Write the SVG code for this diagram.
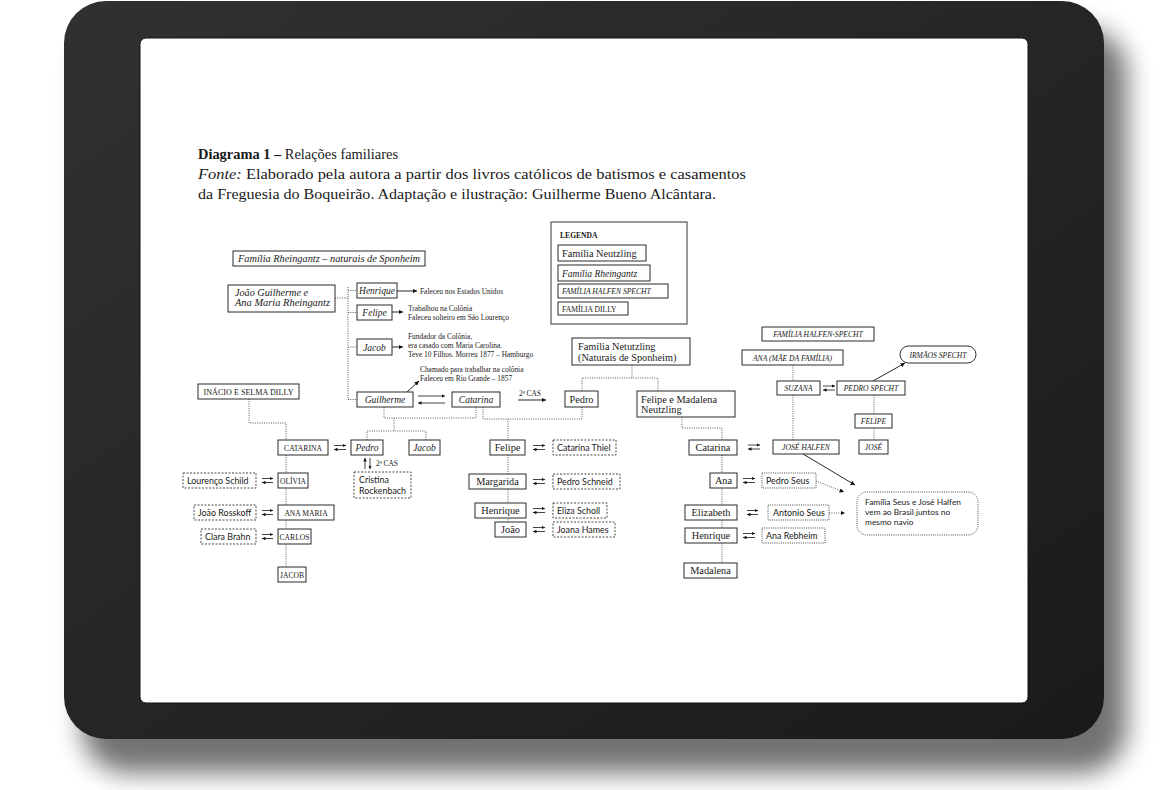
<svg xmlns="http://www.w3.org/2000/svg" width="1167" height="790" viewBox="0 0 1167 790">
<defs>
<linearGradient id="fr" x1="0" y1="0" x2="1" y2="1">
<stop offset="0" stop-color="#313131"/>
<stop offset="1" stop-color="#1a1a1a"/>
</linearGradient>
<filter id="sh" x="-10%" y="-10%" width="120%" height="130%"><feGaussianBlur stdDeviation="13"/></filter>
<marker id="ah" viewBox="0 0 6 6" refX="6" refY="3" markerWidth="4.5" markerHeight="4.5" markerUnits="userSpaceOnUse" orient="auto"><path d="M0,0 L6,3 L0,6 z" fill="#111"/></marker>
<marker id="as" viewBox="0 0 6 6" refX="6" refY="3" markerWidth="3.5" markerHeight="3.5" markerUnits="userSpaceOnUse" orient="auto"><path d="M0,0 L6,3 L0,6 z" fill="#111"/></marker>
<style>
.bx{fill:#fff;stroke:#2a2a2a;stroke-width:1}
.ds{fill:#fff;stroke:#333;stroke-width:0.9;stroke-dasharray:2 1.5}
.dt{fill:#fff;stroke:#333;stroke-width:0.9;stroke-dasharray:1 1.2}
.cn{fill:none;stroke:#333;stroke-width:0.8;stroke-dasharray:1 1.3}
.ar{fill:none;stroke:#111;stroke-width:0.9;marker-end:url(#ah)}
.sw{fill:none;stroke:#111;stroke-width:0.8;marker-end:url(#as)}
text{fill:#1a1a1a}
.t{font-family:"Liberation Serif","DejaVu Serif",serif;font-size:14.5px}
.s{font-family:"Liberation Serif","DejaVu Serif",serif;font-size:10.3px}
.i{font-family:"Liberation Serif","DejaVu Serif",serif;font-size:9.5px;font-style:italic}
.c{font-family:"Liberation Serif","DejaVu Serif",serif;font-size:7.6px}
.ic{font-family:"Liberation Serif","DejaVu Serif",serif;font-size:7.6px;font-style:italic}
.n{font-family:"Liberation Serif","DejaVu Serif",serif;font-size:7.4px}
.sa{font-family:Lato,"Liberation Sans",sans-serif;font-size:8.9px}
.sn{font-family:Lato,"Liberation Sans",sans-serif;font-size:8.4px}
.m{text-anchor:middle}
</style>
</defs>
<rect width="1167" height="790" fill="#fff"/>
<g id="tablet">
<rect x="82" y="28" width="1045" height="745" rx="45" fill="#000" opacity="0.55" filter="url(#sh)"/>
<rect x="64" y="1" width="1040" height="738" rx="42" fill="url(#fr)"/>
<rect x="140" y="38" width="888" height="665" rx="6" fill="#fff" stroke="#111" stroke-width="1"/>
</g>
<g id="title">
<text class="t" x="198" y="159" textLength="200" lengthAdjust="spacingAndGlyphs"><tspan font-weight="bold">Diagrama 1 –</tspan> Relações familiares</text>
<text class="t" x="198" y="179" textLength="548" lengthAdjust="spacingAndGlyphs"><tspan font-style="italic">Fonte:</tspan> Elaborado pela autora a partir dos livros católicos de batismos e casamentos</text>
<text class="t" x="198" y="199" textLength="518" lengthAdjust="spacingAndGlyphs">da Freguesia do Boqueirão. Adaptação e ilustração: Guilherme Bueno Alcântara.</text>
</g>
<g id="connectors">
<path class="cn" d="M335,298 H348 M348,287 V400 M348,290.5 H357 M348,312.5 H357 M348,347 H357 M348,399.5 H357"/>
<path class="ar" d="M397,291 H417"/>
<path class="ar" d="M392,312 H403"/>
<path class="ar" d="M392,347 H403"/>
<path class="ar" d="M407,392 L419,381"/>
<path class="sw" d="M418,396 H445"/>
<path class="sw" d="M445,403 H418"/>
<path class="ar" d="M518,400 H546"/>
<path class="cn" d="M384,407 V418 H476 V407"/>
<path class="cn" d="M483,407 V419 H582 V407"/>
<path class="cn" d="M508,419 V440 M508,455 V522"/>
<path class="cn" d="M394,418 V431 M367,440 V431 H426 V440"/>
<path class="cn" d="M632,365 V378 M582,391 V378 H658 V391"/>
<path class="cn" d="M682,417 V428 H722 V440 M722,455 V563"/>
<path class="cn" d="M249,399 V423 H286 V440 M286,455 V567"/>
<path class="cn" d="M793,365 V381 M793,395 V440 M874,395 V414 M874,428 V440"/>
<path class="ar" d="M873,381 L905,363"/>
<path class="ar" d="M803,454 L855,485"/>
<path class="cn" d="M816,481 L844,492" marker-end="url(#ah)"/>
<path class="cn" d="M829,513 H845" marker-end="url(#ah)"/>
<path class="sw" d="M365,469 V458"/>
<path class="sw" d="M370,458 V469"/>
<g id="swaps">
<path class="sw" d="M334,445.5 H346"/><path class="sw" d="M346,449.5 H334"/>
<path class="sw" d="M262,478.5 H273"/><path class="sw" d="M273,482.5 H262"/>
<path class="sw" d="M262,510.5 H273"/><path class="sw" d="M273,514.5 H262"/>
<path class="sw" d="M262,534.5 H273"/><path class="sw" d="M273,538.5 H262"/>
<path class="sw" d="M533,445.5 H545"/><path class="sw" d="M545,449.5 H533"/>
<path class="sw" d="M533,479.5 H545"/><path class="sw" d="M545,483.5 H533"/>
<path class="sw" d="M533,508.5 H545"/><path class="sw" d="M545,512.5 H533"/>
<path class="sw" d="M533,527.5 H545"/><path class="sw" d="M545,531.5 H533"/>
<path class="sw" d="M748,445 H760"/><path class="sw" d="M760,449 H748"/>
<path class="sw" d="M743,478.5 H755"/><path class="sw" d="M755,482.5 H743"/>
<path class="sw" d="M747,510.5 H758"/><path class="sw" d="M758,514.5 H747"/>
<path class="sw" d="M743,533.5 H755"/><path class="sw" d="M755,537.5 H743"/>
<path class="sw" d="M823,386 H835"/><path class="sw" d="M835,390 H823"/>
</g>
</g>
<g id="notes">
<text class="n" x="420" y="294">Faleceu nos Estados Unidos</text>
<text class="n" x="408" y="311">Trabalhou na Colônia</text>
<text class="n" x="408" y="320">Faleceu solteiro em São Lourenço</text>
<text class="n" x="408" y="339">Fundador da Colônia,</text>
<text class="n" x="408" y="348">era casado com Maria Carolina.</text>
<text class="n" x="408" y="357">Teve 10 Filhos. Morreu 1877 – Hamburgo</text>
<text class="n" x="420" y="372">Chamado para trabalhar na colônia</text>
<text class="n" x="420" y="381">Faleceu em Rio Grande – 1857</text>
<text class="n" x="519" y="396">2ª CAS</text>
<text class="n" x="376" y="466">2ª CAS</text>
</g>
<g id="legend">
<rect x="551" y="222" width="136" height="102" fill="#fff" stroke="#333" stroke-width="1"/>
<text class="c" x="560" y="238" font-weight="bold">LEGENDA</text>
<rect class="bx" x="558" y="245" width="88" height="16"/>
<text class="s" x="562" y="256.5">Família Neutzling</text>
<rect class="bx" x="558" y="265" width="92" height="16"/>
<text class="i" x="562" y="276.5">Família Rheingantz</text>
<rect class="bx" x="558" y="284" width="110" height="14"/>
<text class="ic" x="562" y="294">FAMÍLIA HALFEN SPECHT</text>
<rect class="bx" x="558" y="302" width="70" height="13"/>
<text class="c" x="562" y="311.5">FAMÍLIA DILLY</text>
</g>
<g id="n-rheingantz"><rect class="bx" x="233" y="251" width="192" height="15"/><text class="i" x="238" y="262" textLength="182" lengthAdjust="spacingAndGlyphs">Família Rheingantz – naturais de Sponheim</text></g>
<g id="n-joao"><rect class="bx" x="228" y="285" width="107" height="27"/><text class="i" x="235" y="296" textLength="73" lengthAdjust="spacingAndGlyphs">João Guilherme e</text><text class="i" x="235" y="306" textLength="95" lengthAdjust="spacingAndGlyphs">Ana Maria Rheingantz</text></g>
<g id="n-henrique-r"><rect class="bx" x="357" y="283" width="40" height="15"/><text class="i m" x="377" y="294">Henrique</text></g>
<g id="n-felipe-r"><rect class="bx" x="357" y="305" width="35" height="15"/><text class="i m" x="374.5" y="316">Felipe</text></g>
<g id="n-jacob-r"><rect class="bx" x="357" y="339" width="35" height="16"/><text class="i m" x="374.5" y="350.5">Jacob</text></g>
<g id="n-guilherme"><rect class="bx" x="357" y="392" width="56" height="15"/><text class="i m" x="385" y="403">Guilherme</text></g>
<g id="n-catarina-r"><rect class="bx" x="452" y="392" width="48" height="15"/><text class="i m" x="476" y="403">Catarina</text></g>
<g id="n-pedro-n"><rect class="bx" x="565" y="391" width="33" height="16"/><text class="s m" x="581.5" y="402.5">Pedro</text></g>
<g id="n-netutzling"><rect class="bx" x="572" y="338" width="118" height="27"/><text class="s" x="578" y="350">Família Netutzling</text><text class="s" x="578" y="360.5">(Naturais de Sponheim)</text></g>
<g id="n-felipe-madalena"><rect class="bx" x="637" y="391" width="98" height="26"/><text class="s" x="641" y="402.5">Felipe e Madalena</text><text class="s" x="641" y="413">Neutzling</text></g>
<g id="n-dilly"><rect class="bx" x="198" y="384" width="101" height="15"/><text class="c m" x="248.5" y="394.5" textLength="90" lengthAdjust="spacingAndGlyphs">INÁCIO E SELMA DILLY</text></g>
<g id="n-catarina-d"><rect class="bx" x="278" y="440" width="50" height="15"/><text class="c m" x="303" y="450.5">CATARINA</text></g>
<g id="n-pedro-r"><rect class="bx" x="351" y="440" width="32" height="15"/><text class="i m" x="367" y="451">Pedro</text></g>
<g id="n-jacob-r2"><rect class="bx" x="409" y="440" width="31" height="15"/><text class="i m" x="424.5" y="451">Jacob</text></g>
<g id="n-cristina"><rect class="ds" x="354" y="472" width="57" height="26"/><text class="sa" x="359" y="483">Cristina</text><text class="sa" x="359" y="494">Rockenbach</text></g>
<g id="n-lourenco"><rect class="ds" x="183" y="473" width="73" height="15"/><text class="sa" x="187" y="484">Lourenço Schild</text></g>
<g id="n-olivia"><rect class="bx" x="278" y="473" width="30" height="15"/><text class="c m" x="293" y="483.5">OLÍVIA</text></g>
<g id="n-rosskoff"><rect class="ds" x="194" y="505" width="62" height="15"/><text class="sa" x="198" y="516">João Rosskoff</text></g>
<g id="n-anamaria"><rect class="bx" x="278" y="505" width="56" height="15"/><text class="c m" x="306" y="515.5">ANA MARIA</text></g>
<g id="n-brahn"><rect class="ds" x="201" y="529" width="55" height="15"/><text class="sa" x="205" y="540">Clara Brahn</text></g>
<g id="n-carlos"><rect class="bx" x="278" y="529" width="33" height="15"/><text class="c m" x="294.5" y="539.5">CARLOS</text></g>
<g id="n-jacob-d"><rect class="bx" x="278" y="567" width="28" height="15"/><text class="c m" x="292" y="577.5">JACOB</text></g>
<g id="n-felipe-n"><rect class="bx" x="490" y="440" width="35" height="15"/><text class="s m" x="507.5" y="451">Felipe</text></g>
<g id="n-thiel"><rect class="ds" x="553" y="440" width="63" height="15"/><text class="sa" x="557" y="451">Catarina Thiel</text></g>
<g id="n-margarida"><rect class="bx" x="469" y="474" width="57" height="15"/><text class="s m" x="497.5" y="485">Margarida</text></g>
<g id="n-schneid"><rect class="ds" x="553" y="474" width="67" height="15"/><text class="sa" x="557" y="485">Pedro Schneid</text></g>
<g id="n-henrique-n"><rect class="bx" x="475" y="503" width="51" height="15"/><text class="s m" x="500.5" y="514">Henrique</text></g>
<g id="n-scholl"><rect class="ds" x="553" y="503" width="54" height="15"/><text class="sa" x="557" y="514">Eliza Scholl</text></g>
<g id="n-joao-n"><rect class="bx" x="495" y="522" width="31" height="15"/><text class="s m" x="510.5" y="533">João</text></g>
<g id="n-hames"><rect class="ds" x="553" y="522" width="62" height="15"/><text class="sa" x="557" y="533">Joana Hames</text></g>
<g id="n-catarina-n"><rect class="bx" x="689" y="440" width="48" height="15"/><text class="s m" x="713" y="451">Catarina</text></g>
<g id="n-ana-n"><rect class="bx" x="710" y="473" width="27" height="15"/><text class="s m" x="723.5" y="484">Ana</text></g>
<g id="n-pedroseus"><rect class="dt" x="762" y="473" width="54" height="15"/><text class="sa" x="766" y="484">Pedro Seus</text></g>
<g id="n-elizabeth"><rect class="bx" x="685" y="505" width="52" height="15"/><text class="s m" x="711" y="516">Elizabeth</text></g>
<g id="n-antonioseus"><rect class="dt" x="768" y="505" width="61" height="15"/><text class="sa" x="773" y="516">Antonio Seus</text></g>
<g id="n-henrique-n2"><rect class="bx" x="685" y="528" width="52" height="15"/><text class="s m" x="711" y="539">Henrique</text></g>
<g id="n-rebheim"><rect class="dt" x="762" y="528" width="63" height="15"/><text class="sa" x="766" y="539">Ana Rebheim</text></g>
<g id="n-madalena"><rect class="bx" x="684" y="563" width="53" height="15"/><text class="s m" x="710.5" y="574">Madalena</text></g>
<g id="n-note"><rect class="dt" x="857" y="492" width="121" height="43" rx="10"/><text class="sn" x="865" y="505">Família Seus e José Halfen</text><text class="sn" x="865" y="515">vem ao Brasil juntos no</text><text class="sn" x="865" y="525">mesmo navio</text></g>
<g id="n-halfen-specht"><rect class="bx" x="762" y="327" width="112" height="14"/><text class="ic m" x="818" y="337">FAMÍLIA HALFEN-SPECHT</text></g>
<g id="n-ana-mae"><rect class="bx" x="742" y="350" width="101" height="15"/><text class="ic m" x="792.5" y="360.5">ANA (MÃE DA FAMÍLIA)</text></g>
<g id="n-irmaos"><rect class="bx" x="900" y="346" width="76" height="17" rx="8.5"/><text class="ic m" x="938" y="357.5">IRMÃOS SPECHT</text></g>
<g id="n-suzana"><rect class="bx" x="777" y="381" width="43" height="14"/><text class="ic m" x="798.5" y="391">SUZANA</text></g>
<g id="n-pedrospecht"><rect class="bx" x="837" y="381" width="68" height="14"/><text class="ic m" x="871" y="391">PEDRO SPECHT</text></g>
<g id="n-felipe-h"><rect class="bx" x="855" y="414" width="37" height="14"/><text class="ic m" x="873.5" y="424">FELIPE</text></g>
<g id="n-josehalfen"><rect class="bx" x="773" y="440" width="66" height="14"/><text class="ic m" x="806" y="450">JOSÉ HALFEN</text></g>
<g id="n-jose"><rect class="bx" x="859" y="440" width="29" height="14"/><text class="ic m" x="873.5" y="450">JOSÉ</text></g>
</svg>
